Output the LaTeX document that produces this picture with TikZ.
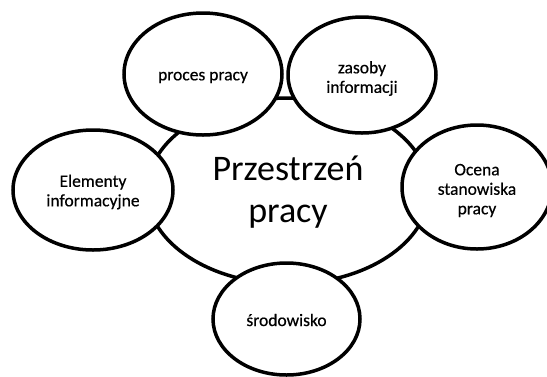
\documentclass[tikz,border=0pt]{standalone}
\usepackage{fontspec}
\setmainfont{Carlito}
\newfontfamily\bubblefont[FakeBold=0.5]{Carlito}
\usetikzlibrary{shapes.geometric}
\begin{document}
\begin{tikzpicture}[x=1pt,y=-1pt,
  oval/.style={ellipse, draw=black, fill=white, line width=3.5pt, inner sep=0pt},
  smalltxt/.style={align=center, inner sep=0pt, font=\bubblefont\fontsize{17.5}{19.5}\selectfont},
  bigtxt/.style={align=center, inner sep=0pt, font=\fontsize{36}{42}\selectfont}]
\useasboundingbox (0,0) rectangle (547,376);
\node[oval, minimum width=282pt, minimum height=186pt] (center) at (288,191) {};
\node[oval, minimum width=158pt, minimum height=122pt] (proces) at (203,74) {};
\node[oval, minimum width=148pt, minimum height=116pt] (zasoby) at (362,75) {};
\node[oval, minimum width=160pt, minimum height=120pt] (elem) at (93,190) {};
\node[oval, minimum width=150pt, minimum height=124pt] (ocena) at (477,187) {};
\node[oval, minimum width=147pt, minimum height=112pt] (srod) at (286.5,319) {};
\node[bigtxt] (tcenter) at ([yshift=-1pt]center.center) {Przestrzeń\\pracy};
\node[smalltxt] (tproces) at ([yshift=-3.5pt]proces.center) {proces pracy};
\node[smalltxt] (tzasoby) at ([yshift=-3.5pt]zasoby.center) {zasoby\\informacji};
\node[smalltxt] (telem) at ([yshift=-2pt]elem.center) {Elementy\\informacyjne};
\node[smalltxt] (tocena) at ([yshift=-3.5pt]ocena.center) {Ocena\\stanowiska\\pracy};
\node[smalltxt] (tsrod) at ([yshift=-1pt]srod.center) {środowisko};
\end{tikzpicture}
\end{document}
